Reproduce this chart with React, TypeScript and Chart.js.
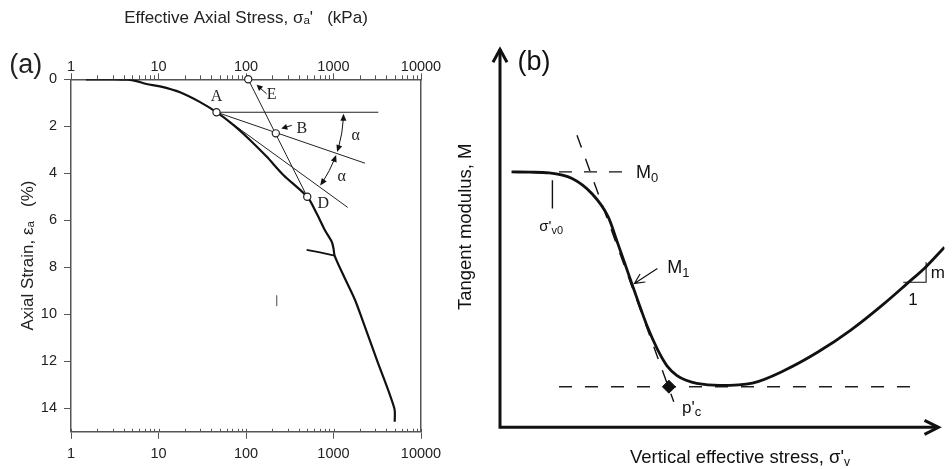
import React, { useEffect, useRef } from 'react';
import { Chart, registerables } from 'chart.js';
Chart.register(...registerables);

const W = 952;
const H = 469;
const SANS = '"Liberation Sans", Arial, Helvetica, sans-serif';
const SERIF = '"Liberation Serif", "Times New Roman", serif';
const AXIS = '#555';
const TEXT = '#222';
const INK = '#111';

// ---------------- Panel (a) data ----------------
const stressTickValues = [1, 10, 100, 1000, 10000];
const stressTickLabels = ['1', '10', '100', '1000', '10000'];
const strainTickValues = [0, 2, 4, 6, 8, 10, 12, 14];
const strainTickLabels = ['0', '2', '4', '6', '8', '10', '12', '14'];
const minorMultipliers = [2, 3, 4, 5, 6, 7, 8, 9];

const curveStress = [1.48, 3, 4.5, 5.6, 7.3, 10.4, 17.6, 29.9, 46, 71.6, 111, 172, 267, 501, 641, 795, 955, 1000, 1030, 1294, 1762, 2140, 3130, 4955, 5010];
const curveStrain = [0, 0, 0.02, 0.08, 0.2, 0.3, 0.55, 0.97, 1.4, 1.94, 2.58, 3.29, 4.07, 5.0, 5.7, 6.41, 6.91, 7.2, 7.5, 8.33, 9.39, 10.24, 11.94, 14.0, 14.57];

const branchStress = [493, 700, 1030];
const branchStrain = [7.26, 7.36, 7.5];

const horizStress = [46, 3250];
const horizStrain = [1.4, 1.4];
const chordABStress = [46, 2290];
const chordABStrain = [1.4, 3.57];
const chordADStress = [46, 1452];
const chordADStrain = [1.4, 5.45];
const lineEDStress = [106, 501];
const lineEDStrain = [0, 5.0];

const pointNames = ['A', 'B', 'D', 'E'];
const pointStress = [46, 219, 501, 106];
const pointStrain = [1.4, 2.3, 5.0, 0];

const markStress = [224, 224];
const markStrain = [9.2, 9.65];

// ---------------- Panel (b) data (schematic, arbitrary units 0-100) ----------------
const curveBX = [2.59, 6.64, 11.06, 16.22, 20.64, 24.34, 26.55, 28.76, 30.97, 33.19, 35.4, 37.61, 39.82, 42.04, 44.25, 49.4, 56.79, 64.16, 71.53, 78.92, 86.28, 91.44, 95.86, 100];
const curveBY = [67.39, 67.31, 67.12, 65.65, 61.69, 55.52, 48.33, 40.94, 33.56, 26.44, 20.64, 16.16, 13.66, 12.34, 11.6, 11.07, 11.68, 15.11, 19.85, 25.65, 32.51, 37.78, 42.39, 47.53];
const m0LineX = [13.27, 28.03];
const m0LineY = [67.39, 67.39];
const tangentX = [17.32, 39.09];
const tangentY = [77.06, 6.75];
const minLineX = [13.27, 92.54];
const minLineY = [10.7, 10.7];
const sigmaTickX = [11.79, 11.79];
const sigmaTickY = [65.2, 57.74];
const slopeTriX = [90.71, 95.86, 95.86];
const slopeTriY = [38.26, 38.26, 43.53];
const pcX = [38.0];
const pcY = [10.7];

const pts = (xs: number[], ys: number[]) => xs.map((x, i) => ({ x, y: ys[i] }));

type Part = { t: string; size: number; dy?: number; font?: string };
function drawParts(ctx: CanvasRenderingContext2D, parts: Part[], x: number, y: number, align: 'left' | 'center') {
  const widths = parts.map((p) => {
    ctx.font = `${p.size}px ${p.font ?? SANS}`;
    return ctx.measureText(p.t).width;
  });
  const total = widths.reduce((a, b) => a + b, 0);
  let cx = align === 'center' ? x - total / 2 : x;
  ctx.textAlign = 'left';
  ctx.textBaseline = 'middle';
  parts.forEach((p, i) => {
    ctx.font = `${p.size}px ${p.font ?? SANS}`;
    ctx.fillText(p.t, cx, y + (p.dy ?? 0));
    cx += widths[i];
  });
}

function filledHead(ctx: CanvasRenderingContext2D, tx: number, ty: number, ang: number, len: number, half: number) {
  const bx = tx - Math.cos(ang) * len;
  const by = ty - Math.sin(ang) * len;
  const nx = -Math.sin(ang) * half;
  const ny = Math.cos(ang) * half;
  ctx.beginPath();
  ctx.moveTo(tx, ty);
  ctx.lineTo(bx + nx, by + ny);
  ctx.lineTo(bx - nx, by - ny);
  ctx.closePath();
  ctx.fill();
}

const labelOffsets: Record<string, [number, number]> = { A: [0, -15], B: [26, -5], D: [16, 6.6], E: [23.4, 15.3] };
const pointerArrows: Record<string, [number, number, number, number]> = { B: [16, -8, 5.5, -4.8], E: [18.4, 14.6, 8.4, 5.5] };

const panelAPlugin = {
  id: 'panelA',
  afterDraw(chart: any) {
    const { ctx, chartArea: ca, scales } = chart;
    const xs = scales.x;
    const ys = scales.y;
    ctx.save();
    ctx.strokeStyle = AXIS;
    ctx.lineWidth = 1;
    ctx.beginPath();
    stressTickValues.slice(0, -1).forEach((dec) =>
      minorMultipliers.forEach((m) => {
        const px = Math.round(xs.getPixelForValue(dec * m)) + 0.5;
        ctx.moveTo(px, ca.top);
        ctx.lineTo(px, ca.top - 4);
        ctx.moveTo(px, ca.bottom);
        ctx.lineTo(px, ca.bottom - 3);
      })
    );
    stressTickValues.forEach((v) => {
      const px = Math.round(xs.getPixelForValue(v)) + 0.5;
      ctx.moveTo(px, ca.bottom);
      ctx.lineTo(px, ca.bottom - 3);
    });
    ctx.stroke();

    ctx.fillStyle = TEXT;
    ctx.font = `27px ${SANS}`;
    ctx.textAlign = 'center';
    ctx.textBaseline = 'middle';
    ctx.fillText('(a)', 25.8, 65.5);

    const P: Record<string, { x: number; y: number }> = {};
    pointNames.forEach((n, i) => {
      P[n] = { x: xs.getPixelForValue(pointStress[i]), y: ys.getPixelForValue(pointStrain[i]) };
    });
    ctx.font = `16px ${SERIF}`;
    pointNames.forEach((n) => {
      const [dx, dy] = labelOffsets[n];
      ctx.fillText(n, P[n].x + dx, P[n].y + dy);
    });

    ctx.strokeStyle = INK;
    ctx.fillStyle = INK;
    ctx.lineWidth = 1;
    Object.keys(pointerArrows).forEach((n) => {
      const [tx0, ty0, hx, hy] = pointerArrows[n];
      const x0 = P[n].x + tx0, y0 = P[n].y + ty0, x1 = P[n].x + hx, y1 = P[n].y + hy;
      const ang = Math.atan2(y1 - y0, x1 - x0);
      ctx.beginPath();
      ctx.moveTo(x0, y0);
      ctx.lineTo(x1 - Math.cos(ang) * 4, y1 - Math.sin(ang) * 4);
      ctx.stroke();
      filledHead(ctx, x1, y1, ang, 6, 3);
    });

    const A = P['A'];
    const angleTo = (sx: number, sy: number) => Math.atan2(ys.getPixelForValue(sy) - A.y, xs.getPixelForValue(sx) - A.x);
    const a0 = angleTo(horizStress[1], horizStrain[1]);
    const a1 = angleTo(chordABStress[1], chordABStrain[1]);
    const a2 = angleTo(chordADStress[1], chordADStrain[1]);
    const R = 127;
    const head = 7;
    const gap = 0.012;
    const hAng = head / R;
    [[a0, a1], [a1, a2]].forEach(([s, e]) => {
      const s0 = s + gap, e0 = e - gap;
      ctx.beginPath();
      ctx.arc(A.x, A.y, R, s0 + hAng * 0.8, e0 - hAng * 0.8);
      ctx.stroke();
      filledHead(ctx, A.x + R * Math.cos(s0), A.y + R * Math.sin(s0), Math.atan2(-Math.cos(s0), Math.sin(s0)), head, 3);
      filledHead(ctx, A.x + R * Math.cos(e0), A.y + R * Math.sin(e0), Math.atan2(Math.cos(e0), -Math.sin(e0)), head, 3);
      const mid = (s + e) / 2;
      ctx.fillStyle = TEXT;
      ctx.font = `16px ${SERIF}`;
      ctx.textAlign = 'center';
      ctx.textBaseline = 'middle';
      ctx.fillText('\u03b1', A.x + (R + 14) * Math.cos(mid), A.y + (R + 14) * Math.sin(mid));
      ctx.fillStyle = INK;
    });
    ctx.restore();
  },
};

const panelBPlugin = {
  id: 'panelB',
  afterDraw(chart: any) {
    const { ctx, chartArea: ca, scales } = chart;
    const xs = scales.x;
    const ys = scales.y;
    const X = (v: number) => xs.getPixelForValue(v);
    const Y = (v: number) => ys.getPixelForValue(v);
    ctx.save();
    ctx.strokeStyle = INK;
    ctx.fillStyle = INK;
    ctx.lineWidth = 3;
    ctx.lineJoin = 'miter';
    ctx.lineCap = 'butt';
    const xEnd = ca.left + 438.5;
    ctx.beginPath();
    ctx.moveTo(ca.left, ca.bottom + 1.5);
    ctx.lineTo(ca.left, ca.top + 1);
    ctx.moveTo(ca.left - 1.5, ca.bottom);
    ctx.lineTo(xEnd - 1, ca.bottom);
    ctx.stroke();
    ctx.beginPath();
    ctx.moveTo(ca.left - 7, ca.top + 14);
    ctx.lineTo(ca.left, ca.top + 1);
    ctx.lineTo(ca.left + 7, ca.top + 14);
    ctx.moveTo(xEnd - 14, ca.bottom - 7);
    ctx.lineTo(xEnd, ca.bottom);
    ctx.lineTo(xEnd - 14, ca.bottom + 7);
    ctx.stroke();

    ctx.lineWidth = 1.2;
    const t0 = { x: X(35.4), y: Y(41.92) };
    const t1 = { x: X(30.24), y: Y(37.96) };
    const ang = Math.atan2(t1.y - t0.y, t1.x - t0.x);
    ctx.beginPath();
    ctx.moveTo(t0.x, t0.y);
    ctx.lineTo(t1.x, t1.y);
    ctx.moveTo(t1.x - Math.cos(ang - 0.45) * 11, t1.y - Math.sin(ang - 0.45) * 11);
    ctx.lineTo(t1.x, t1.y);
    ctx.lineTo(t1.x - Math.cos(ang + 0.45) * 11, t1.y - Math.sin(ang + 0.45) * 11);
    ctx.stroke();

    ctx.fillStyle = INK;
    ctx.font = `27px ${SANS}`;
    ctx.textAlign = 'center';
    ctx.textBaseline = 'middle';
    ctx.fillText('(b)', ca.left + 34, ca.top + 14.5);

    drawParts(ctx, [{ t: 'M', size: 18 }, { t: '0', size: 13, dy: 4.5 }], X(30.6), Y(66.96), 'left');
    drawParts(ctx, [{ t: 'M', size: 18 }, { t: '1', size: 13, dy: 4.5 }], X(37.61), Y(41.92), 'left');
    drawParts(ctx, [{ t: "p'", size: 17 }, { t: 'c', size: 13, dy: 4 }], X(40.93), Y(5.09), 'left');
    drawParts(ctx, [{ t: "\u03c3'", size: 15 }, { t: 'v0', size: 11, dy: 4 }], X(8.85), Y(52.89), 'left');
    drawParts(ctx, [{ t: 'm', size: 17 }], X(96.9), Y(40.6), 'left');
    drawParts(ctx, [{ t: '1', size: 17 }], X(92.92), Y(33.56), 'center');

    drawParts(ctx, [{ t: "Vertical effective stress, \u03c3'", size: 18.5 }, { t: 'v', size: 12, dy: 4.5 }], ca.left + 240, ca.bottom + 31, 'center');

    ctx.save();
    ctx.translate(ca.left - 34, (ca.top + ca.bottom) / 2 - 11);
    ctx.rotate(-Math.PI / 2);
    ctx.font = `18.5px ${SANS}`;
    ctx.textAlign = 'center';
    ctx.textBaseline = 'middle';
    ctx.fillText('Tangent modulus, M', 0, 0);
    ctx.restore();
    ctx.restore();
  },
};

function configA(): any {
  const lineDs = (data: any[], width: number, color = INK, tension = 0) => ({
    data,
    showLine: true,
    borderColor: color,
    borderWidth: width,
    pointRadius: 0,
    pointHoverRadius: 0,
    fill: false,
    tension,
  });
  const tickFont = { size: 14.5, family: SANS, lineHeight: 1 };
  const logScale = (position: string) => ({
    type: 'logarithmic',
    position,
    min: 1,
    max: 10000,
    afterBuildTicks: (s: any) => {
      s.ticks = stressTickValues.map((v) => ({ value: v, major: true }));
    },
    afterFit: (s: any) => {
      s.height = position === 'top' ? 79.3 : H - 431.8;
    },
    ticks: {
      autoSkip: false,
      maxRotation: 0,
      color: TEXT,
      font: tickFont,
      padding: position === 'top' ? -1 : 8,
      callback: (_v: any, i: number) => stressTickLabels[i],
    },
    grid: { display: true, drawOnChartArea: false, drawTicks: true, tickLength: position === 'top' ? 6 : 7, tickColor: AXIS, tickWidth: 1 },
    border: { display: true, color: AXIS, width: 1.5 },
    title:
      position === 'top'
        ? { display: true, text: "Effective Axial Stress, \u03c3\u2090'   (kPa)", color: TEXT, font: { size: 17, family: SANS, lineHeight: 1.2 }, padding: { top: 7.8, bottom: 0 } }
        : { display: false },
  });
  return {
    type: 'scatter',
    data: {
      datasets: [
        {
          data: pts(pointStress, pointStrain),
          showLine: false,
          pointRadius: 3.6,
          pointBorderWidth: 1.2,
          pointBackgroundColor: '#fff',
          pointBorderColor: '#222',
          clip: false,
        },
        lineDs(pts(curveStress, curveStrain), 2.2, INK, 0.3),
        lineDs(pts(branchStress, branchStrain), 1.8),
        lineDs(pts(horizStress, horizStrain), 1.1, '#222'),
        lineDs(pts(chordABStress, chordABStrain), 1, '#222'),
        lineDs(pts(chordADStress, chordADStrain), 1, '#222'),
        lineDs(pts(lineEDStress, lineEDStrain), 1, '#222'),
        lineDs(pts(markStress, markStrain), 1, '#777'),
      ],
    },
    options: {
      responsive: false,
      animation: false,
      events: [],
      layout: { padding: { left: 0, right: W - 421, top: 0, bottom: 0 } },
      plugins: { legend: { display: false }, tooltip: { enabled: false }, title: { display: false } },
      scales: {
        x: logScale('bottom'),
        x2: logScale('top'),
        y: {
          type: 'linear',
          position: 'left',
          min: 0,
          max: 15,
          reverse: true,
          afterBuildTicks: (s: any) => {
            s.ticks = strainTickValues.map((v) => ({ value: v }));
          },
          afterFit: (s: any) => {
            s.width = 71;
          },
          ticks: { autoSkip: false, color: TEXT, font: tickFont, padding: 7, callback: (_v: any, i: number) => strainTickLabels[i] },
          grid: { display: true, drawOnChartArea: false, drawTicks: true, tickLength: 7, tickColor: AXIS, tickWidth: 1 },
          border: { display: true, color: AXIS, width: 1.5 },
          title: { display: true, text: 'Axial Strain, \u03b5\u2090   (%)', color: TEXT, font: { size: 17, family: SANS, lineHeight: 1.2 }, padding: { top: 17.8, bottom: 0 } },
        },
        y2: {
          type: 'linear',
          position: 'right',
          min: 0,
          max: 15,
          reverse: true,
          afterFit: (s: any) => {
            s.width = 0;
          },
          ticks: { display: false },
          grid: { display: false },
          border: { display: true, color: AXIS, width: 1.5 },
        },
      },
    },
    plugins: [panelAPlugin],
  };
}

function configB(): any {
  const lineDs = (data: any[], width: number, dash: number[] = [], smooth = false) => ({
    data,
    showLine: true,
    borderColor: INK,
    borderWidth: width,
    borderDash: dash,
    pointRadius: 0,
    pointHoverRadius: 0,
    fill: false,
    tension: smooth ? 0.4 : 0,
    cubicInterpolationMode: smooth ? 'monotone' : 'default',
  });
  return {
    type: 'scatter',
    data: {
      datasets: [
        { data: pts(pcX, pcY), showLine: false, pointStyle: 'rectRot', pointRadius: 6.5, pointBackgroundColor: INK, pointBorderColor: INK, clip: false },
        lineDs(pts(curveBX, curveBY), 2.8, [], true),
        lineDs(pts(m0LineX, m0LineY), 1.4, [13, 12]),
        lineDs(pts(tangentX, tangentY), 1.4, [13, 12]),
        lineDs(pts(minLineX, minLineY), 1.4, [13, 13]),
        lineDs(pts(sigmaTickX, sigmaTickY), 1.4),
        lineDs(pts(slopeTriX, slopeTriY), 1.1),
      ],
    },
    options: {
      responsive: false,
      animation: false,
      events: [],
      layout: { padding: { left: 500, right: 0, top: 48.3, bottom: H - 427.3 } },
      plugins: { legend: { display: false }, tooltip: { enabled: false }, title: { display: false } },
      scales: {
        x: { type: 'linear', min: 0, max: 100, display: false },
        y: { type: 'linear', min: 0, max: 100, display: false },
      },
    },
    plugins: [panelBPlugin],
  };
}

export default function App() {
  const refA = useRef<HTMLCanvasElement>(null);
  const refB = useRef<HTMLCanvasElement>(null);
  useEffect(() => {
    const ca = new Chart(refA.current as HTMLCanvasElement, configA());
    const cb = new Chart(refB.current as HTMLCanvasElement, configB());
    return () => {
      ca.destroy();
      cb.destroy();
    };
  }, []);
  return (
    <div style={{ position: 'fixed', left: 0, top: 0, width: W, height: H, background: '#fff' }}>
      <canvas ref={refA} width={W} height={H} style={{ position: 'absolute', left: 0, top: 0 }} />
      <canvas ref={refB} width={W} height={H} style={{ position: 'absolute', left: 0, top: 0 }} />
    </div>
  );
}
